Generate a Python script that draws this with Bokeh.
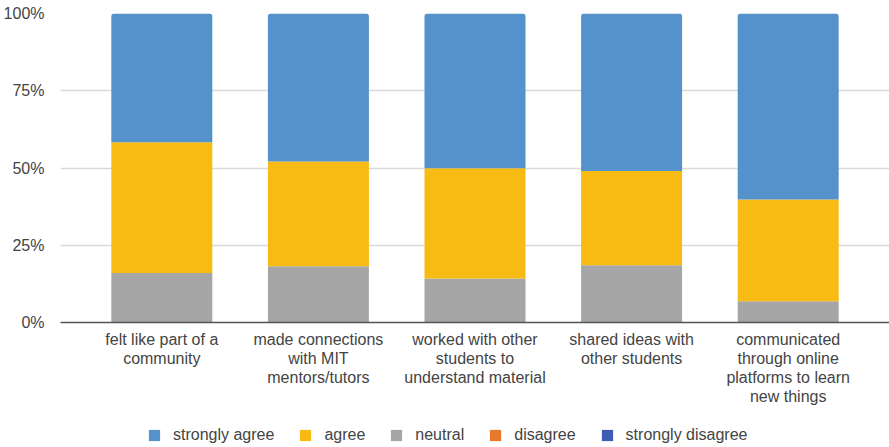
from bokeh.plotting import figure
from bokeh.layouts import column
from bokeh.models import (ColumnDataSource, FactorRange, Range1d, FixedTicker,
                          PrintfTickFormatter, Legend, LegendItem)
from bokeh.embed import file_html
from bokeh.resources import INLINE

categories = ["felt like part of a\ncommunity",
              "made connections\nwith MIT\nmentors/tutors",
              "worked with other\nstudents to\nunderstand material",
              "shared ideas with\nother students",
              "communicated\nthrough online\nplatforms to learn\nnew things"]

strongly_disagree = [0, 0, 0, 0, 0]
disagree = [0, 0, 0, 0, 0]
neutral = [16.0, 18.2, 14.2, 18.5, 6.9]
agree = [42.3, 33.9, 35.7, 30.5, 32.9]
strongly_agree = [41.7, 47.9, 50.1, 51.0, 60.2]

series = ["strongly disagree", "disagree", "neutral", "agree", "strongly agree"]
colors = ["#3d5cb8", "#e8782c", "#a6a6a6", "#f7bb14", "#5591cb"]

source = ColumnDataSource(dict(cat=categories,
                               **{"strongly disagree": strongly_disagree,
                                  "disagree": disagree,
                                  "neutral": neutral,
                                  "agree": agree,
                                  "strongly agree": strongly_agree}))

FONT = "Liberation Sans"
TXT = "#444444"

p = figure(width=889, height=410, output_backend="svg", toolbar_location=None,
           x_range=FactorRange(*categories, range_padding=0.147,
                               range_padding_units="absolute"),
           y_range=Range1d(0, 100),
           min_border_left=50, min_border_right=0, min_border_top=13,
           min_border_bottom=88)
p.outline_line_color = None

renderers = p.vbar_stack(series, x="cat", width=0.645, color=colors,
                         source=source, line_color=None)
renderers[-1].glyph.border_radius = (3, 3, 0, 0)

p.xgrid.grid_line_color = None
p.ygrid.grid_line_color = "#d9d9d9"
p.ygrid.grid_line_width = 1.3
p.yaxis.ticker = FixedTicker(ticks=[0, 25, 50, 75, 100])
p.yaxis.formatter = PrintfTickFormatter(format="%d%%")
p.yaxis.axis_line_color = None
p.yaxis.major_tick_line_color = None
p.yaxis.minor_tick_line_color = None
p.yaxis.major_label_standoff = 10
p.yaxis.major_label_text_font = FONT
p.yaxis.major_label_text_font_size = "16px"
p.yaxis.major_label_text_color = TXT

p.xaxis.axis_line_color = "#555555"
p.xaxis.axis_line_width = 1.5
p.xaxis.major_tick_line_color = None
p.xaxis.minor_tick_line_color = None
p.xaxis.major_label_standoff = 2
p.xaxis.major_label_text_font = FONT
p.xaxis.major_label_text_font_size = "16px"
p.xaxis.major_label_text_color = TXT
p.xaxis.major_label_text_line_height = 1.12

# legend strip: same stacked data, drawn outside its visible y-range
lf = figure(width=889, height=37, output_backend="svg", toolbar_location=None,
            x_range=FactorRange(*categories), y_range=Range1d(1000, 1001),
            x_axis_location=None, y_axis_location=None,
            min_border=0, min_border_left=0, min_border_right=0,
            min_border_top=0, min_border_bottom=0)
lf.outline_line_color = None
lf.grid.visible = False
lrend = lf.vbar_stack(series, x="cat", width=0.645, color=colors,
                      source=source, line_color=None)

order = [4, 3, 2, 1, 0]
items = [LegendItem(label=series[i], renderers=[lrend[i]]) for i in order]
legend = Legend(items=items, orientation="horizontal", location=(87, 3),
                glyph_width=14, glyph_height=14, label_standoff=12, spacing=24,
                padding=0, margin=0, border_line_color=None,
                background_fill_alpha=0,
                label_text_font=FONT, label_text_font_size="16px",
                label_text_color=TXT)
lf.add_layout(legend, "center")

open("out.html", "w").write(file_html(column(p, lf, spacing=0), INLINE))
